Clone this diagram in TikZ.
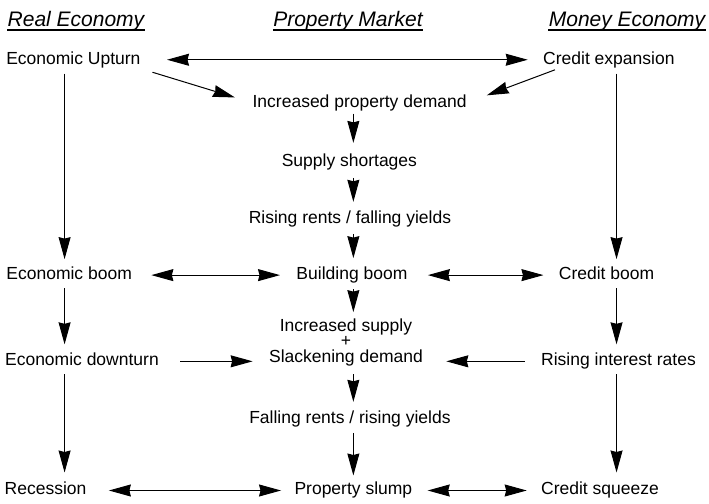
\documentclass[tikz,border=0pt]{standalone}
\usepackage{fontspec}
\setmainfont{Liberation Sans}
\usetikzlibrary{arrows.meta}

\tikzset{
  stage/.style={font=\fontsize{17.5}{14}\selectfont, inner sep=0pt, text height=13pt, text depth=4pt},
  head/.style={font=\fontsize{21}{24}\selectfont\itshape, inner sep=0pt, text height=15.5pt, text depth=2.5pt},
}

\begin{document}
\begin{tikzpicture}[->, >={Stealth[length=22pt,width=12pt,inset=1.5pt]}, line width=1pt, auto]
  \useasboundingbox (0,0) rectangle (24.92,-17.68);
  % column headings
  \node[head] (hreal) at (2.67,-0.72) {Real Economy};
  \node[head] (hprop) at (12.23,-0.72) {Property Market};
  \node[head] (hmoney) at (22.04,-0.72) {Money Economy};
  \foreach \h in {hreal,hprop,hmoney}
    \draw[-, line width=1.2pt] (\h.south west) -- (\h.south east);
  % x of the three vertical chains
  \coordinate (lcol) at (2.27,0);
  \coordinate (mcol) at (12.42,0);
  \coordinate (rcol) at (21.67,0);

  \node[stage] (upturn) at (2.58,-2.10) {Economic Upturn};
  \node[stage] (credexp) at (21.40,-2.10) {Credit expansion};
  \node[stage] (demand) at (12.64,-3.61) {Increased property demand};
  \node[stage] (shortage) at (12.28,-5.69) {Supply shortages};
  \node[stage] (rising) at (12.30,-7.69) {Rising rents / falling yields};
  \node[stage] (eboom) at (2.43,-9.67) {Economic boom};
  \node[stage] (bboom) at (12.37,-9.67) {Building boom};
  \node[stage] (cboom) at (21.32,-9.67) {Credit boom};
  \node[font=\fontsize{17.5}{15.5}\selectfont, inner sep=0pt, align=center] (supply) at (12.16,-12.03) {Increased supply\\+\\Slackening demand};
  \node[stage] (downturn) at (2.88,-12.70) {Economic downturn};
  \node[stage] (rates) at (21.74,-12.70) {Rising interest rates};
  \node[stage] (falling) at (12.30,-14.72) {Falling rents / rising yields};
  \node[stage] (recession) at (1.60,-17.24) {Recession};
  \node[stage] (slump) at (12.42,-17.24) {Property slump};
  \node[stage] (squeeze) at (21.09,-17.24) {Credit squeeze};

  % top row
  \path (upturn) edge[<->, shorten <=26pt, shorten >=15pt] (credexp);
  \path (upturn.south east) edge[shorten <=12pt, shorten >=18pt] (demand.west);
  \path (credexp.190) edge[shorten <=3pt, shorten >=21pt] (demand.east);
  % property market chain
  \path (demand.south -| mcol) edge[shorten <=2pt, shorten >=10pt] (shortage.north -| mcol);
  \path (shortage.south -| mcol) edge[shorten <=7pt, shorten >=8pt] (rising.north -| mcol);
  \path (rising.south -| mcol) edge[shorten <=6pt, shorten >=8pt] (bboom.north -| mcol);
  \path (bboom.south -| mcol) edge[shorten <=5pt, shorten >=6pt] (supply.north -| mcol);
  \path (supply.south -| mcol) edge[shorten <=8pt, shorten >=8pt] (falling.north -| mcol);
  \path (falling.south -| mcol) edge[shorten <=5pt, shorten >=6pt] (slump.north -| mcol);
  % real economy chain
  \path (upturn.south -| lcol) edge[shorten <=5pt, shorten >=7pt] (eboom.north -| lcol);
  \path (eboom.south -| lcol) edge[shorten <=4pt, shorten >=8pt] (downturn.north -| lcol);
  \path (downturn.south -| lcol) edge[shorten <=4pt, shorten >=9pt] (recession.north -| lcol);
  % money economy chain
  \path (credexp.south -| rcol) edge[shorten <=5pt, shorten >=7pt] (cboom.north -| rcol);
  \path (cboom.south -| rcol) edge[shorten <=4pt, shorten >=8pt] (rates.north -| rcol);
  \path (rates.south -| rcol) edge[shorten <=4pt, shorten >=9pt] (squeeze.north -| rcol);
  % links across
  \path (eboom) edge[<->, shorten <=19pt, shorten >=16pt] (bboom);
  \path (bboom) edge[<->, shorten <=20pt, shorten >=15pt] (cboom);
  \path (downturn.east) edge[shorten <=21pt, shorten >=16pt] (downturn.east -| supply.west);
  \path (rates.west) edge[shorten <=16pt, shorten >=23pt] (rates.west -| supply.east);
  \path (recession) edge[<->, shorten <=22pt, shorten >=13pt] (slump);
  \path (slump) edge[<->, shorten <=15pt, shorten >=14pt] (squeeze);
\end{tikzpicture}
\end{document}
